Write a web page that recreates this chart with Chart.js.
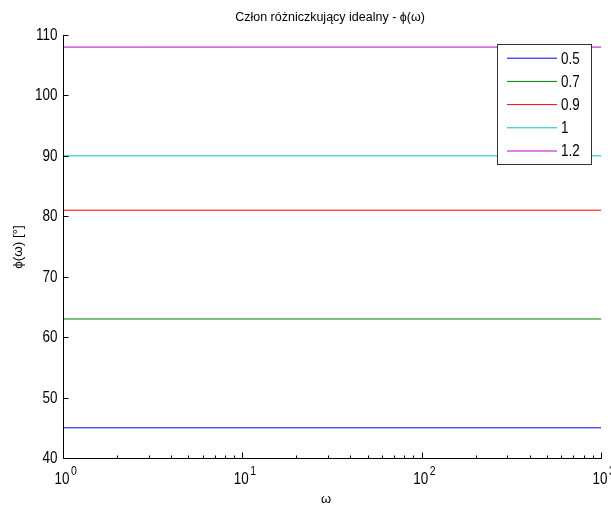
<!DOCTYPE html>
<html>
<head>
<meta charset="utf-8">
<script src="https://cdn.jsdelivr.net/npm/chart.js@4"></script>
<style>
  html, body { margin: 0; padding: 0; background: #fff; }
  canvas { display: block; }
</style>
</head>
<body>
<canvas id="c" width="611" height="507"></canvas>
<script>
// Ideal differentiator: phase phi(omega) = 90 * k degrees, constant over omega
const omega = [1, 1000];
const gains = ['0.5', '0.7', '0.9', '1', '1.2'];
const phase = [45, 63, 81, 90, 108];
const colors = ['#0000ff', '#008000', '#ff0000', '#00bfbf', '#bf00bf'];
const yTicks = [40, 50, 60, 70, 80, 90, 100, 110];
const xMajor = [1, 10, 100, 1000];
const xExp = ['0', '1', '2', '3'];

const FONT = '"Liberation Sans", Arial, sans-serif';
const SQUEEZE = 0.84;

const datasets = gains.map((g, i) => ({
  label: g,
  data: omega.map(w => ({ x: w, y: phase[i] })),
  borderColor: colors[i],
  backgroundColor: colors[i],
  borderWidth: 1,
  pointRadius: 0,
  fill: false
}));

// condensed text, like the narrow Helvetica of the axis labels
function narrowText(ctx, text, x, y, size, align) {
  ctx.save();
  ctx.font = size + 'px ' + FONT;
  const w = ctx.measureText(text).width * SQUEEZE;
  let x0 = x;
  if (align === 'right') x0 = x - w;
  else if (align === 'center') x0 = x - w / 2;
  ctx.translate(x0, y);
  ctx.scale(SQUEEZE, 1);
  ctx.textAlign = 'left';
  ctx.fillText(text, 0, 0);
  ctx.restore();
  return w;
}

const axesPlugin = {
  id: 'matlabAxes',
  afterDraw(chart) {
    const ctx = chart.ctx;
    const xs = chart.scales.x, ys = chart.scales.y;
    const a = chart.chartArea;
    const L = Math.round(a.left) + 0.5;
    const B = Math.round(a.bottom) + 0.5;
    ctx.save();
    ctx.strokeStyle = '#000';
    ctx.fillStyle = '#000';
    ctx.lineWidth = 1;
    ctx.beginPath();
    ctx.moveTo(L, Math.round(a.top));
    ctx.lineTo(L, B);
    ctx.lineTo(Math.round(a.right) + 1, B);
    ctx.stroke();

    // y ticks and labels
    ctx.textBaseline = 'middle';
    ctx.beginPath();
    yTicks.forEach(v => {
      const py = Math.round(ys.getPixelForValue(v)) + 0.5;
      ctx.moveTo(L, py);
      ctx.lineTo(L + 5, py);
      narrowText(ctx, String(v), L - 6, py, 16, 'right');
    });
    ctx.stroke();

    // x ticks (log decades with minor ticks)
    ctx.beginPath();
    xMajor.forEach((d, i) => {
      const px = Math.round(xs.getPixelForValue(d)) + 0.5;
      ctx.moveTo(px, B);
      ctx.lineTo(px, B - 6);
      if (i < xMajor.length - 1) {
        for (let m = 2; m <= 9; m++) {
          const mx = Math.round(xs.getPixelForValue(m * d)) + 0.5;
          ctx.moveTo(mx, B);
          ctx.lineTo(mx, B - 3);
        }
      }
    });
    ctx.stroke();

    // x labels: 10 with superscript exponent
    ctx.textBaseline = 'alphabetic';
    xMajor.forEach((d, i) => {
      const px = xs.getPixelForValue(d);
      const wb = narrowText(ctx, '10', px - 1, 484, 16, 'center');
      narrowText(ctx, xExp[i], px - 1 + wb / 2 + 1.5, 475, 12.5, 'left');
    });

    // axis titles
    ctx.font = '13px ' + FONT;
    ctx.textAlign = 'center';
    ctx.textBaseline = 'middle';
    ctx.fillText('\u03c9', 326, 499);
    ctx.save();
    ctx.translate(18, 247);
    ctx.rotate(-Math.PI / 2);
    ctx.font = '13.5px ' + FONT;
    ctx.fillText('\u03d5(\u03c9) [\u00b0]', 0, 0);
    ctx.restore();

    // title
    ctx.font = '12.5px ' + FONT;
    ctx.fillText('Cz\u0142on r\u00f3\u017cniczkuj\u0105cy idealny - \u03d5(\u03c9)', 330, 18);

    // legend
    const bx = 497.5, by = 44.5, bw = 94, bh = 120;
    ctx.fillStyle = '#fff';
    ctx.fillRect(bx, by, bw, bh);
    ctx.strokeStyle = '#333';
    ctx.strokeRect(bx, by, bw, bh);
    ctx.textBaseline = 'middle';
    gains.forEach((g, i) => {
      const ly = 58.2 + i * 23.2;
      ctx.strokeStyle = colors[i];
      ctx.beginPath();
      ctx.moveTo(507, ly);
      ctx.lineTo(557, ly);
      ctx.stroke();
      ctx.fillStyle = '#000';
      narrowText(ctx, g, 561, ly + 1, 16, 'left');
    });
    ctx.restore();
  }
};

new Chart(document.getElementById('c'), {
  type: 'line',
  data: { datasets },
  options: {
    responsive: false,
    animation: false,
    layout: { padding: { left: 63, right: 10, top: 35, bottom: 49 } },
    scales: {
      x: { type: 'logarithmic', min: 1, max: 1000, display: false },
      y: { type: 'linear', min: 40, max: 110, display: false }
    },
    plugins: {
      legend: { display: false },
      title: { display: false },
      tooltip: { enabled: false }
    }
  },
  plugins: [axesPlugin]
});
</script>
</body>
</html>
